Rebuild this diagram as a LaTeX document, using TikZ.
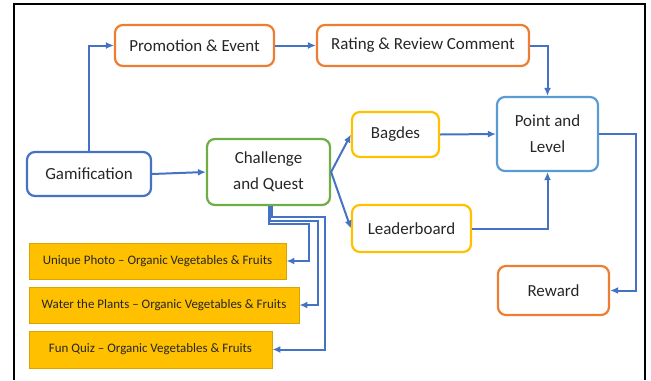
\documentclass[tikz,border=0pt]{standalone}
\usepackage{fontspec}
\setmainfont{Carlito}
\usetikzlibrary{arrows.meta}
\definecolor{flowblue}{HTML}{4472C4}
\definecolor{lightblue}{HTML}{5B9BD5}
\definecolor{boxorange}{HTML}{ED7D31}
\definecolor{boxgreen}{HTML}{70AD47}
\definecolor{boxyellow}{HTML}{FFC000}
\definecolor{taskedge}{HTML}{D9A300}
\definecolor{textgrey}{HTML}{262626}
\tikzset{>={Latex[length=8pt,width=7pt]}, line width=2pt}
\tikzset{
  stage/.style={rounded corners=8pt,draw,line width=2.2pt,align=center,
    text=textgrey,font=\fontsize{17}{26}\selectfont,inner sep=0pt},
  task/.style={draw=taskedge,fill=boxyellow,line width=1pt,
    text=textgrey,font=\fontsize{13}{15}\selectfont,inner sep=0pt},
  flow/.style={->,draw=flowblue,line width=2pt}
}

\begin{document}
\begin{tikzpicture}[x=1bp,y=-1bp]
  \useasboundingbox (0,0) rectangle (651,380);
  % frame
  \draw[line width=2.5pt] (14,380) -- (14,4) -- (645,4) -- (645,380);

  % top row
  \node[stage,draw=boxorange,minimum width=159bp,minimum height=41bp]
    (promo) at (194.5,45.5) {Promotion \& Event};
  \node[stage,draw=boxorange,minimum width=212bp,minimum height=41bp]
    (rating) at (423,45.5) {Rating \& Review Comment};

  % middle
  \node[stage,draw=flowblue,minimum width=124bp,minimum height=44bp]
    (gami) at (89,174) {Gamification};
  \node[stage,draw=boxgreen,minimum width=123bp,minimum height=66bp]
    (quest) at (268.5,172) {Challenge\\and Quest};
  \node[stage,draw=boxyellow,minimum width=87bp,minimum height=45bp]
    (badges) at (395.5,134.5) {Bagdes};
  \node[stage,draw=boxyellow,minimum width=119bp,minimum height=47bp]
    (leader) at (411.5,228.5) {Leaderboard};
  \node[stage,draw=lightblue,minimum width=101bp,minimum height=74bp]
    (level) at (547.5,134) {Point and\\Level};
  \node[stage,draw=boxorange,minimum width=111bp,minimum height=49bp]
    (reward) at (553.5,290.5) {Reward};

  % tasks
  \node[task,minimum width=257bp,minimum height=36bp]
    (photo) at (157.5,261) {Unique Photo -- Organic Vegetables \& Fruits};
  \node[task,minimum width=270bp,minimum height=36bp]
    (water) at (164,305) {Water the Plants -- Organic Vegetables \& Fruits};
  \node[task,minimum width=243bp,minimum height=37bp]
    (quiz) at (150.5,349.5) {Fun Quiz -- Organic Vegetables \& Fruits};

  % connectors
  \draw[flow] (gami.north) |- (promo.west);
  \draw[flow] (promo.east) -- (rating.west);
  \draw[flow] (rating.east) -| (level.north);
  \draw[flow] (gami.east) -- (quest.west);
  \draw[flow] (quest.east) -- (badges.west);
  \draw[flow] (quest.east) -- (leader.west);
  \draw[flow] (badges.east) -- (level.west);
  \draw[flow] (leader.east) -| (level.south);
  \draw[flow] (level.east) -- ++(37,0) |- (reward.east);

  % task links
  \draw[flow] (quest.south) -- ++(0,18) -- ++(40,0) |- (photo.east);
  \draw[flow] ([xshift=1.5bp]quest.south) -- ++(0,15) -- ++(48,0) |- (water.east);
  \draw[flow] ([xshift=3bp]quest.south) -- ++(0,11) -- ++(53,0) |- (quiz.east);
\end{tikzpicture}
\end{document}
